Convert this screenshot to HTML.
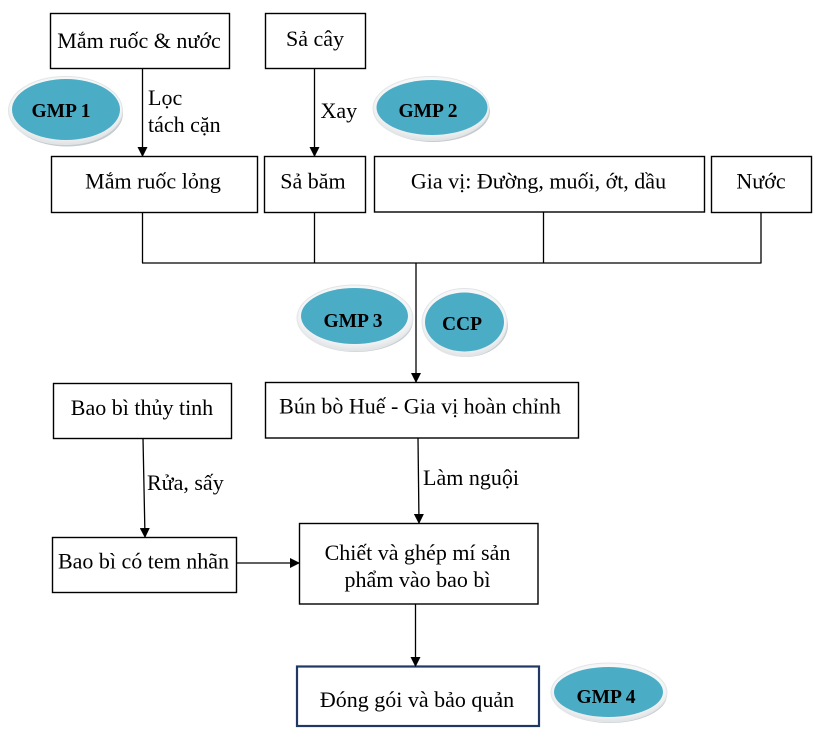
<!DOCTYPE html>
<html>
<head>
<meta charset="utf-8">
<style>
html,body{margin:0;padding:0;background:#fff;}
svg{display:block;}
text{font-family:"Liberation Serif","Times New Roman",serif;fill:#000;}
.t{font-size:22px;}
.b{font-size:19.5px;font-weight:bold;}
</style>
</head>
<body>
<svg width="830" height="740" viewBox="0 0 830 740" xmlns="http://www.w3.org/2000/svg">
<defs>
  <radialGradient id="halo" cx="50%" cy="40%" r="60%">
    <stop offset="0%" stop-color="#ffffff"/>
    <stop offset="80%" stop-color="#f3f4f5"/>
    <stop offset="100%" stop-color="#dfe2e4"/>
  </radialGradient>
  <marker id="ah" markerWidth="10" markerHeight="10" refX="9" refY="5" orient="auto" markerUnits="userSpaceOnUse">
    <path d="M0,0 L10,5 L0,10 Z" fill="#000"/>
  </marker>
</defs>

<g fill="none" stroke="#000" stroke-width="1.4">
  <!-- boxes -->
  <rect x="50.5" y="13.5" width="179" height="55"/>
  <rect x="265.5" y="13.5" width="100" height="55"/>
  <rect x="51.5" y="156.5" width="206" height="56"/>
  <rect x="264.5" y="156.5" width="101" height="56"/>
  <rect x="374.5" y="156.5" width="330" height="55.5"/>
  <rect x="711.5" y="156.5" width="100" height="56"/>
  <rect x="53.5" y="383.5" width="178" height="55"/>
  <rect x="265.5" y="382.5" width="313" height="55.5"/>
  <rect x="52.5" y="537.5" width="184" height="55"/>
  <rect x="299.5" y="523.5" width="238.5" height="80.5"/>
</g>
<rect x="297" y="666.5" width="242" height="59.5" fill="none" stroke="#1f3864" stroke-width="2.2"/>

<g fill="none" stroke="#000" stroke-width="1.3">
  <line x1="142.5" y1="68" x2="142.5" y2="156" marker-end="url(#ah)"/>
  <line x1="314.5" y1="68" x2="314.5" y2="156" marker-end="url(#ah)"/>
  <line x1="142.5" y1="212" x2="142.5" y2="263"/>
  <line x1="314.5" y1="212" x2="314.5" y2="263"/>
  <line x1="543.5" y1="212" x2="543.5" y2="263"/>
  <line x1="761" y1="212" x2="761" y2="263"/>
  <line x1="142" y1="263" x2="761.5" y2="263"/>
  <line x1="416" y1="263" x2="416" y2="382" marker-end="url(#ah)"/>
  <line x1="143" y1="438" x2="145" y2="537" marker-end="url(#ah)"/>
  <line x1="418" y1="438" x2="419" y2="523" marker-end="url(#ah)"/>
  <line x1="237" y1="563" x2="299" y2="563" marker-end="url(#ah)"/>
  <line x1="415.5" y1="604" x2="415.5" y2="666" marker-end="url(#ah)"/>
</g>

<!-- ellipses -->
<g>
  <!-- GMP1 -->
  <ellipse cx="67" cy="113.5" rx="56" ry="33" fill="#b6bec3" opacity="0.8"/>
  <ellipse cx="65.5" cy="110.5" rx="57" ry="34" fill="url(#halo)" stroke="#e2e5e7" stroke-width="1"/>
  <ellipse cx="66" cy="109.5" rx="54" ry="30.5" fill="#4bacc6"/>
  <!-- GMP2 -->
  <ellipse cx="433" cy="111" rx="57" ry="31" fill="#b6bec3" opacity="0.8"/>
  <ellipse cx="431" cy="108.5" rx="58" ry="32" fill="url(#halo)" stroke="#e2e5e7" stroke-width="1"/>
  <ellipse cx="432" cy="107.5" rx="55.5" ry="27.5" fill="#4bacc6"/>
  <!-- GMP3 -->
  <ellipse cx="356" cy="321" rx="57" ry="31" fill="#b6bec3" opacity="0.8"/>
  <ellipse cx="355" cy="318" rx="58" ry="33" fill="url(#halo)" stroke="#e2e5e7" stroke-width="1"/>
  <ellipse cx="354.5" cy="316" rx="53.5" ry="28" fill="#4bacc6"/>
  <!-- CCP -->
  <ellipse cx="466" cy="325" rx="42" ry="32" fill="#b6bec3" opacity="0.8"/>
  <ellipse cx="464.5" cy="322.5" rx="42.5" ry="34" fill="url(#halo)" stroke="#e2e5e7" stroke-width="1"/>
  <ellipse cx="464.5" cy="322" rx="39.5" ry="29.5" fill="#4bacc6"/>
  <!-- GMP4 -->
  <ellipse cx="610" cy="695" rx="57" ry="28" fill="#b6bec3" opacity="0.8"/>
  <ellipse cx="609" cy="692.5" rx="58" ry="29.5" fill="url(#halo)" stroke="#e2e5e7" stroke-width="1"/>
  <ellipse cx="608.5" cy="692" rx="54.5" ry="25" fill="#4bacc6"/>
</g>

<g class="b" text-anchor="middle">
  <text class="b" x="61" y="117">GMP 1</text>
  <text class="b" x="428" y="117">GMP 2</text>
  <text class="b" x="353" y="327">GMP 3</text>
  <text class="b" x="462" y="330">CCP</text>
  <text class="b" x="606" y="703">GMP 4</text>
</g>

<g text-anchor="middle">
  <text class="t" x="139" y="48">Mắm ruốc &amp; nước</text>
  <text class="t" x="315" y="46">Sả cây</text>
  <text class="t" x="153" y="188.5">Mắm ruốc lỏng</text>
  <text class="t" x="313" y="188.5">Sả băm</text>
  <text class="t" x="538.5" y="188.5">Gia vị: Đường, muối, ớt, dầu</text>
  <text class="t" x="761" y="188.5">Nước</text>
  <text class="t" x="142" y="415">Bao bì thủy tinh</text>
  <text class="t" x="420" y="413.5">Bún bò Huế - Gia vị hoàn chỉnh</text>
  <text class="t" x="143.5" y="568.5">Bao bì có tem nhãn</text>
  <text class="t" x="417.5" y="560">Chiết và ghép mí sản</text>
  <text class="t" x="417.5" y="587">phẩm vào bao bì</text>
  <text class="t" x="417" y="707">Đóng gói và bảo quản</text>
</g>

<g>
  <text class="t" x="148" y="105">Lọc</text>
  <text class="t" x="148" y="132">tách cặn</text>
  <text class="t" x="320.5" y="118">Xay</text>
  <text class="t" x="147" y="490">Rửa, sấy</text>
  <text class="t" x="423" y="485">Làm nguội</text>
</g>
</svg>
</body>
</html>
